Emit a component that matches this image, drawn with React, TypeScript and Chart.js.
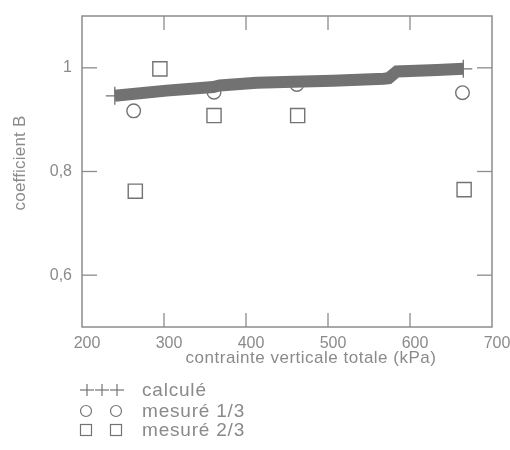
import React, { useEffect, useRef } from "react";
import { Chart, registerables } from "chart.js";

Chart.register(...registerables);

// Calculated coefficient B along the total vertical stress
const calcStress = [240, 303, 360, 368, 413, 458, 506, 568, 574, 584, 633, 665];
const calcB = [0.946, 0.956, 0.963, 0.966, 0.971, 0.973, 0.975, 0.979, 0.98, 0.993, 0.996, 0.998];

// Measured at 1/3 height
const third1Stress = [263, 361, 462, 664];
const third1B = [0.917, 0.953, 0.968, 0.952];

// Measured at 2/3 height
const third2Stress = [265, 295, 361, 463, 666];
const third2B = [0.762, 0.998, 0.908, 0.908, 0.765];

const xTicks = [200, 300, 400, 500, 600, 700];
const yTicks = [0.6, 0.8, 1];

const xTitle = "contrainte verticale totale (kPa)";
const yTitle = "coefficient B";
const legendLabels = ["calculé", "mesuré 1/3", "mesuré 2/3"];

const FONT = "'Liberation Sans', Arial, Helvetica, sans-serif";
const TEXT = "#8a8a8a";
const AXIS = "#8c8c8c";
const MARK = "#737373";
const BAND = "#727272";

const fmtB = (v: number) => (v === 1 ? "1" : String(v).replace(".", ","));

const decorPlugin = {
  id: "decor",
  afterDraw(chart: any) {
    const { ctx, chartArea: a, scales } = chart;
    const xs = scales.x;
    const ys = scales.y;
    const seg = (x1: number, y1: number, x2: number, y2: number) => {
      ctx.beginPath();
      ctx.moveTo(x1, y1);
      ctx.lineTo(x2, y2);
      ctx.stroke();
    };
    ctx.save();
    // frame
    ctx.strokeStyle = AXIS;
    ctx.lineWidth = 1.5;
    ctx.strokeRect(a.left, a.top, a.right - a.left, a.bottom - a.top);
    // inward ticks
    ctx.lineWidth = 1.3;
    for (const v of xTicks.slice(1, -1)) {
      const px = xs.getPixelForValue(v);
      seg(px, a.bottom, px, a.bottom - 14);
      seg(px, a.top, px, a.top + 14);
    }
    for (const v of yTicks) {
      const py = ys.getPixelForValue(v);
      seg(a.left, py, a.left + 15, py);
      seg(a.right, py, a.right - 15, py);
    }

    // axis titles
    ctx.fillStyle = TEXT;
    ctx.textBaseline = "middle";
    ctx.textAlign = "center";
    ctx.font = `17px ${FONT}`;
    (ctx as any).letterSpacing = "0.5px";
    ctx.fillText(xTitle, 311, 358);
    ctx.save();
    ctx.translate(20, 163);
    ctx.rotate(-Math.PI / 2);
    (ctx as any).letterSpacing = "0.2px";
    ctx.fillText(yTitle, 0, 0);
    ctx.restore();

    // legend
    const rows = [390, 411, 430];
    ctx.strokeStyle = MARK;
    ctx.lineWidth = 1.2;
    // crosses
    for (const cx of [87, 102, 117]) {
      seg(cx - 7, rows[0], cx + 7, rows[0]);
      seg(cx, rows[0] - 6, cx, rows[0] + 6);
    }
    // circles
    for (const cx of [86, 116]) {
      ctx.beginPath();
      ctx.arc(cx, rows[1], 5.5, 0, Math.PI * 2);
      ctx.stroke();
    }
    // squares
    for (const cx of [86, 116]) {
      ctx.strokeRect(cx - 5.5, rows[2] - 5.5, 11, 11);
    }
    ctx.textAlign = "left";
    ctx.font = `19px ${FONT}`;
    (ctx as any).letterSpacing = "0.8px";
    legendLabels.forEach((t, i) => ctx.fillText(t, 142, rows[i] + 1));
    ctx.restore();
  },
};

const noScalePadding = (s: any) => {
  s.paddingTop = 0;
  s.paddingBottom = 0;
  s.paddingLeft = 0;
  s.paddingRight = 0;
};

export default function App() {
  const ref = useRef<HTMLCanvasElement | null>(null);

  useEffect(() => {
    document.body.style.margin = "0";
    const canvas = ref.current;
    if (!canvas) return;
    const lastIdx = calcStress.length - 1;
    const chart = new Chart(canvas, {
      type: "scatter",
      data: {
        datasets: [
          {
            label: legendLabels[0],
            data: calcStress.map((x, i) => ({ x, y: calcB[i] })),
            showLine: true,
            borderColor: BAND,
            borderWidth: 12,
            borderCapStyle: "butt",
            borderJoinStyle: "miter",
            tension: 0,
            pointStyle: "cross",
            pointRadius: calcStress.map((_, i) => (i === 0 || i === lastIdx ? 9 : 0)),
            pointBorderColor: BAND,
            pointBorderWidth: 1.3,
            order: 2,
          },
          {
            label: legendLabels[1],
            data: third1Stress.map((x, i) => ({ x, y: third1B[i] })),
            pointStyle: "circle",
            pointRadius: 6.8,
            pointBorderWidth: 1.4,
            pointBorderColor: MARK,
            pointBackgroundColor: "rgba(0,0,0,0)",
            order: 1,
          },
          {
            label: legendLabels[2],
            data: third2Stress.map((x, i) => ({ x, y: third2B[i] })),
            pointStyle: "rect",
            pointRadius: 10,
            pointBorderWidth: 1.4,
            pointBorderColor: MARK,
            pointBackgroundColor: "rgba(0,0,0,0)",
            order: 0,
          },
        ],
      },
      options: {
        responsive: false,
        animation: false,
        layout: { padding: { left: 0, top: 16, right: 18, bottom: 0 } },
        plugins: {
          legend: { display: false },
          tooltip: { enabled: false },
        },
        scales: {
          x: {
            type: "linear",
            min: 200,
            max: 700,
            afterFit: (s: any) => {
              s.height = 123;
              noScalePadding(s);
            },
            afterBuildTicks: (s: any) => {
              s.ticks = xTicks.map((value) => ({ value }));
            },
            grid: { display: false, drawTicks: false },
            border: { display: false },
            ticks: {
              color: TEXT,
              font: { family: FONT, size: 16 },
              padding: 7,
              labelOffset: 5,
              maxRotation: 0,
              callback: (v: any) => String(v),
            },
          },
          y: {
            type: "linear",
            min: 0.5,
            max: 1.1,
            afterFit: (s: any) => {
              s.width = 82;
              noScalePadding(s);
            },
            afterBuildTicks: (s: any) => {
              s.ticks = yTicks.map((value) => ({ value }));
            },
            grid: { display: false, drawTicks: false },
            border: { display: false },
            ticks: {
              color: TEXT,
              font: { family: FONT, size: 16 },
              padding: 10,
              callback: (v: any) => fmtB(Number(v)),
            },
          },
        },
      },
      plugins: [decorPlugin],
    });
    return () => chart.destroy();
  }, []);

  return <canvas ref={ref} width={510} height={450} style={{ display: "block" }} />;
}
